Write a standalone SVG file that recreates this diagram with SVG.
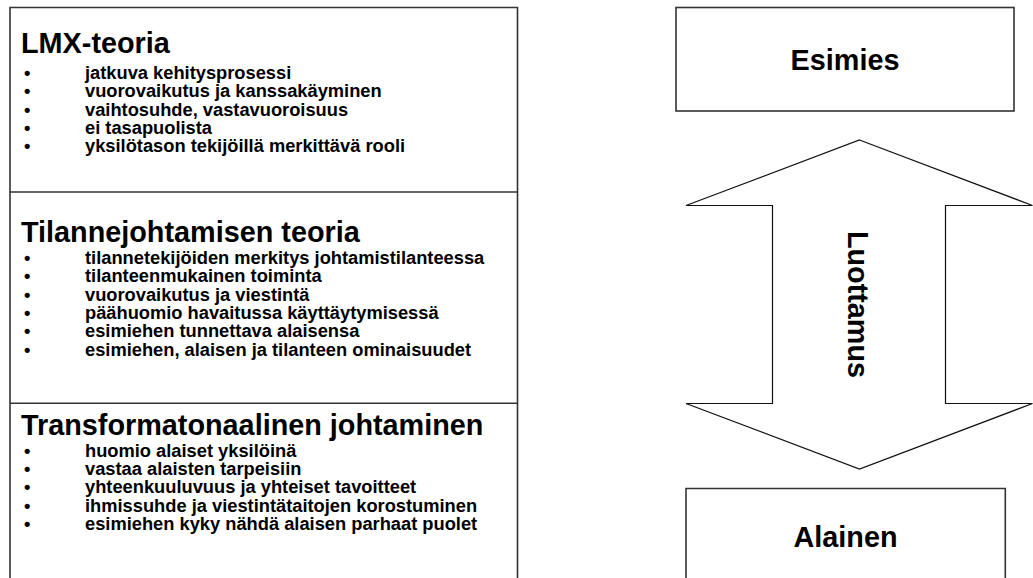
<svg xmlns="http://www.w3.org/2000/svg" width="1033" height="578" viewBox="0 0 1033 578">
<style>
text{font-family:"Liberation Sans",Arial,sans-serif;font-weight:bold;fill:#000}
.h{font-size:28.8px}
.b{font-size:18.3px}
.box{fill:#fff;stroke:#333;stroke-width:1.6}
.arrow{fill:#fff;stroke:#111;stroke-width:1.2}
</style>
<rect width="1033" height="578" fill="#fff"/>
<g id="theories">
<path class="box" d="M10 585 V7.5 H517.5 V585"/>
<line x1="10" y1="192" x2="517.5" y2="192" stroke="#333" stroke-width="1.6"/>
<line x1="10" y1="403.3" x2="517.5" y2="403.3" stroke="#333" stroke-width="1.6"/>
<g id="lmx">
<text class="h" x="21" y="53">LMX-teoria</text>
<text class="b" x="24" y="79">•</text><text class="b" x="85" y="79">jatkuva kehitysprosessi</text>
<text class="b" x="24" y="97.3">•</text><text class="b" x="85" y="97.3">vuorovaikutus ja kanssakäyminen</text>
<text class="b" x="24" y="115.6">•</text><text class="b" x="85" y="115.6">vaihtosuhde, vastavuoroisuus</text>
<text class="b" x="24" y="133.9">•</text><text class="b" x="85" y="133.9">ei tasapuolista</text>
<text class="b" x="24" y="152.2">•</text><text class="b" x="85" y="152.2">yksilötason tekijöillä merkittävä rooli</text>
</g>
<g id="tilanne">
<text class="h" x="21" y="242">Tilannejohtamisen teoria</text>
<text class="b" x="24" y="264">•</text><text class="b" x="85" y="264">tilannetekijöiden merkitys johtamistilanteessa</text>
<text class="b" x="24" y="282.3">•</text><text class="b" x="85" y="282.3">tilanteenmukainen toiminta</text>
<text class="b" x="24" y="300.6">•</text><text class="b" x="85" y="300.6">vuorovaikutus ja viestintä</text>
<text class="b" x="24" y="318.9">•</text><text class="b" x="85" y="318.9">päähuomio havaitussa käyttäytymisessä</text>
<text class="b" x="24" y="337.2">•</text><text class="b" x="85" y="337.2">esimiehen tunnettava alaisensa</text>
<text class="b" x="24" y="355.5">•</text><text class="b" x="85" y="355.5">esimiehen, alaisen ja tilanteen ominaisuudet</text>
</g>
<g id="transform">
<text class="h" x="21" y="435">Transformatonaalinen johtaminen</text>
<text class="b" x="24" y="456.7">•</text><text class="b" x="85" y="456.7">huomio alaiset yksilöinä</text>
<text class="b" x="24" y="475">•</text><text class="b" x="85" y="475">vastaa alaisten tarpeisiin</text>
<text class="b" x="24" y="493.3">•</text><text class="b" x="85" y="493.3">yhteenkuuluvuus ja yhteiset tavoitteet</text>
<text class="b" x="24" y="511.6">•</text><text class="b" x="85" y="511.6">ihmissuhde ja viestintätaitojen korostuminen</text>
<text class="b" x="24" y="529.9">•</text><text class="b" x="85" y="529.9">esimiehen kyky nähdä alaisen parhaat puolet</text>
</g>
</g>
<g id="esimies">
<rect class="box" x="676" y="7.5" width="338" height="103.5"/>
<text class="h" x="845" y="69.5" text-anchor="middle">Esimies</text>
</g>
<g id="connectors">
<path id="luottamus-arrow" class="arrow" d="M859.5 140 L1032.5 205.5 H945.5 V403.5 H1032.5 L859.5 469 L686 403.5 H772.5 V205.5 H686 Z"/>
<text class="h" transform="translate(848,304.5) rotate(90)" text-anchor="middle">Luottamus</text>
</g>
<g id="alainen">
<path class="box" d="M686 585 V488.5 H1005.3 V585"/>
<text class="h" x="845.5" y="547" text-anchor="middle">Alainen</text>
</g>
</svg>
